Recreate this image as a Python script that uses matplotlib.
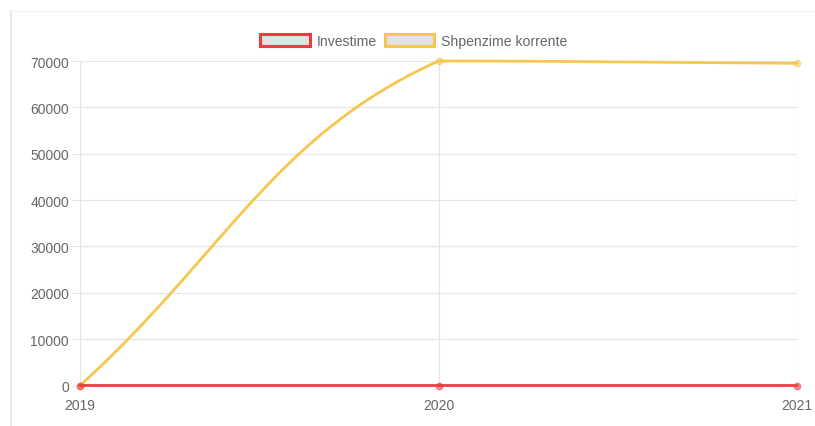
import matplotlib.pyplot as plt
import matplotlib.patches as mpatches
import numpy as np

years = ["2019", "2020", "2021"]
investime = [0, 0, 0]
shpenzime = [0, 70000, 69500]
series_names = ["Investime", "Shpenzime korrente"]
colors = ["#ee3b3f", "#f7c64f"]

plt.rcParams["font.family"] = ["Liberation Sans", "DejaVu Sans"]

# plot area in pixels (left, top, right, bottom)
L, T, R, B = 80, 62, 797, 386.5
YMAX = 70000


def bezier_curve(vals, tension=0.4, n=80):
    # chart.js style bezier (splineCurve + capping to chart area), done in pixels
    px = np.array([L + i * (R - L) / (len(vals) - 1) for i in range(len(vals))])
    py = np.array([B - v / YMAX * (B - T) for v in vals])
    pts = np.column_stack([px, py])
    cps = []
    for i in range(len(pts)):
        prev = pts[max(i - 1, 0)]
        cur = pts[i]
        nxt = pts[min(i + 1, len(pts) - 1)]
        d01 = np.hypot(*(cur - prev))
        d12 = np.hypot(*(nxt - cur))
        tot = d01 + d12
        s01 = d01 / tot if tot else 0
        s12 = d12 / tot if tot else 0
        fa = tension * s01
        fb = tension * s12
        c_prev = cur - fa * (nxt - prev)
        c_next = cur + fb * (nxt - prev)
        c_prev = np.array([np.clip(c_prev[0], L, R), np.clip(c_prev[1], T, B)])
        c_next = np.array([np.clip(c_next[0], L, R), np.clip(c_next[1], T, B)])
        cps.append((c_prev, c_next))
    xs, ys = [], []
    t = np.linspace(0, 1, n)[:, None]
    for i in range(len(pts) - 1):
        p0, p1, p2, p3 = pts[i], cps[i][1], cps[i + 1][0], pts[i + 1]
        seg = (1 - t) ** 3 * p0 + 3 * (1 - t) ** 2 * t * p1 + 3 * (1 - t) * t**2 * p2 + t**3 * p3
        xs.extend(seg[:, 0])
        ys.extend(seg[:, 1])
    xs = np.array(xs)
    ys = np.array(ys)
    # back to data units
    dx = (xs - L) / (R - L) * (len(vals) - 1)
    dy = np.round((B - ys) / (B - T) * YMAX, 3)
    return dx, dy


fig = plt.figure(figsize=(8.15, 4.27), dpi=100)
ax = fig.add_axes([L / 815, 1 - B / 427, (R - L) / 815, (B - T) / 427])

x = np.arange(len(years))
for vals, col, z in [(shpenzime, colors[1], 3), (investime, colors[0], 4)]:
    cx, cy = bezier_curve(vals)
    ax.plot(cx, cy, color=col, lw=2.0, clip_on=False, zorder=z, solid_capstyle="round", snap=False)
    ax.scatter(x, vals, s=22, color=col, alpha=0.6, edgecolors=col, linewidths=0.8,
               clip_on=False, zorder=z + 1)

ax.set_xlim(0, len(years) - 1)
ax.set_ylim(0, YMAX)
ax.set_xticks(x)
ax.set_xticklabels(years)
ax.set_yticks(np.arange(0, YMAX + 1, 10000))
ax.grid(True, color="#e6e6e6", lw=0.9)
ax.set_axisbelow(True)
for s in ax.spines.values():
    s.set_visible(False)
ax.tick_params(axis="both", colors="#e6e6e6", labelcolor="#666666", labelsize=10, length=6)
ax.tick_params(axis="y", pad=2)
ax.tick_params(axis="x", length=0, pad=9)

# card border
fig.add_artist(plt.Line2D([10.5 / 815, 10.5 / 815], [0, 1 - 12 / 427], color="#e6e6e6", lw=1.5))
fig.add_artist(plt.Line2D([10.5 / 815, 1], [1 - 12 / 427, 1 - 12 / 427], color="#f2f2f2", lw=1))

handles = [mpatches.Patch(facecolor="#e2e2e2", edgecolor=c, lw=2.2) for c in colors]
fig.legend(handles, series_names, loc="center", bbox_to_anchor=(414 / 815, 1 - 42 / 427), ncol=2,
           frameon=False, handlelength=3.5, handleheight=0.95, columnspacing=0.6,
           handletextpad=0.5, fontsize=10.1, labelcolor="#666666")

fig.savefig("out.png", dpi=100)
